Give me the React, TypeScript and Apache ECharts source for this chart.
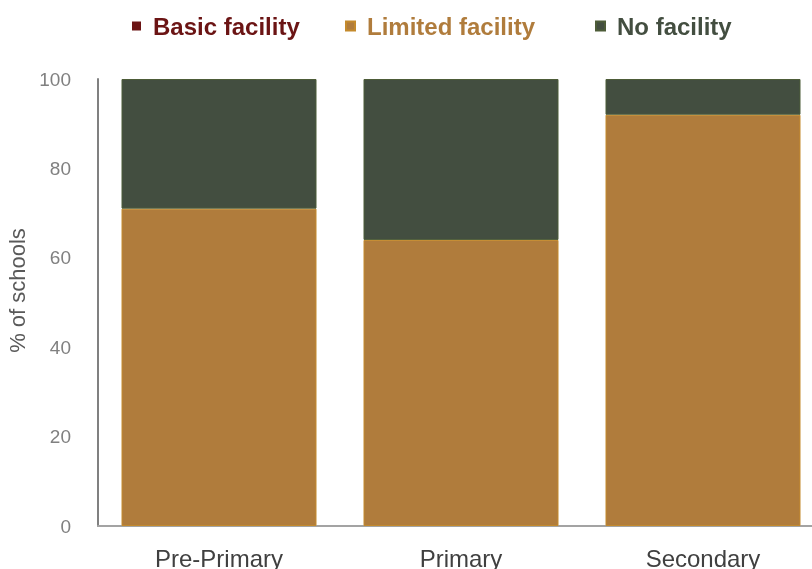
import React, { useEffect, useRef } from "react";
import * as echarts from "echarts";

const categories = ["Pre-Primary", "Primary", "Secondary"];
const seriesNames = ["Basic facility", "Limited facility", "No facility"];
const basicFacility = [0, 0, 0];
const limitedFacility = [71, 64, 92];
const noFacility = [29, 36, 8];
const yTicks = [0, 20, 40, 60, 80, 100];

const colors = ["#6B1414", "#B07C3C", "#434E40"];
const borderColors = ["#6B1414", "#C48A2C", "#4D5C38"];
const legendLefts = [127, 340, 590];

export default function App() {
  const ref = useRef<HTMLDivElement>(null);
  useEffect(() => {
    if (!ref.current) return;
    const chart = echarts.init(ref.current, null, { renderer: "svg" });
    const values = [basicFacility, limitedFacility, noFacility];
    chart.setOption({
      animation: false,
      textStyle: { fontFamily: "Liberation Sans, Arial, sans-serif" },
      legend: seriesNames.map((name, i) => ({
        left: legendLefts[i],
        top: 9,
        icon: "rect",
        itemWidth: 9,
        itemHeight: 9,
        selectedMode: false,
        data: [
          {
            name,
            textStyle: {
              color: colors[i],
              fontSize: 24,
              fontWeight: "bold",
              fontFamily: "Liberation Sans, Arial, sans-serif",
              padding: [0, 0, 6, 7],
            },
          },
        ],
      })),
      grid: {
        left: 98,
        top: 79,
        bottom: 43,
        right: -12,
        containLabel: false,
        outerBoundsMode: "none",
      },
      xAxis: {
        type: "category",
        data: categories,
        axisTick: { show: false },
        axisLine: { show: true, lineStyle: { color: "#a3a3a3", width: 2 } },
        axisLabel: {
          color: "#404040",
          fontSize: 24,
          margin: 20,
          fontFamily: "Liberation Sans, Arial, sans-serif",
        },
      },
      yAxis: {
        type: "value",
        min: yTicks[0],
        max: yTicks[yTicks.length - 1],
        interval: 20,
        name: "% of schools",
        nameLocation: "middle",
        nameGap: 64,
        nameTextStyle: {
          color: "#595959",
          fontSize: 22,
          fontFamily: "Liberation Sans, Arial, sans-serif",
          padding: [0, 0, 0, 24],
        },
        splitLine: { show: false },
        axisTick: { show: false },
        axisLine: { show: true, lineStyle: { color: "#808080", width: 2 } },
        axisLabel: {
          color: "#808080",
          fontSize: 19,
          margin: 27,
          fontFamily: "Liberation Sans, Arial, sans-serif",
        },
      },
      series: seriesNames.map((name, i) => ({
        name,
        type: "bar",
        stack: "total",
        barWidth: 195,
        data: values[i],
        itemStyle: {
          color: colors[i],
          borderColor: borderColors[i],
          borderWidth: i === 0 ? 0 : 1,
        },
      })),
    });
    return () => chart.dispose();
  }, []);
  return (
    <div
      ref={ref}
      style={{ position: "fixed", left: 0, top: 0, width: 812, height: 569 }}
    />
  );
}
